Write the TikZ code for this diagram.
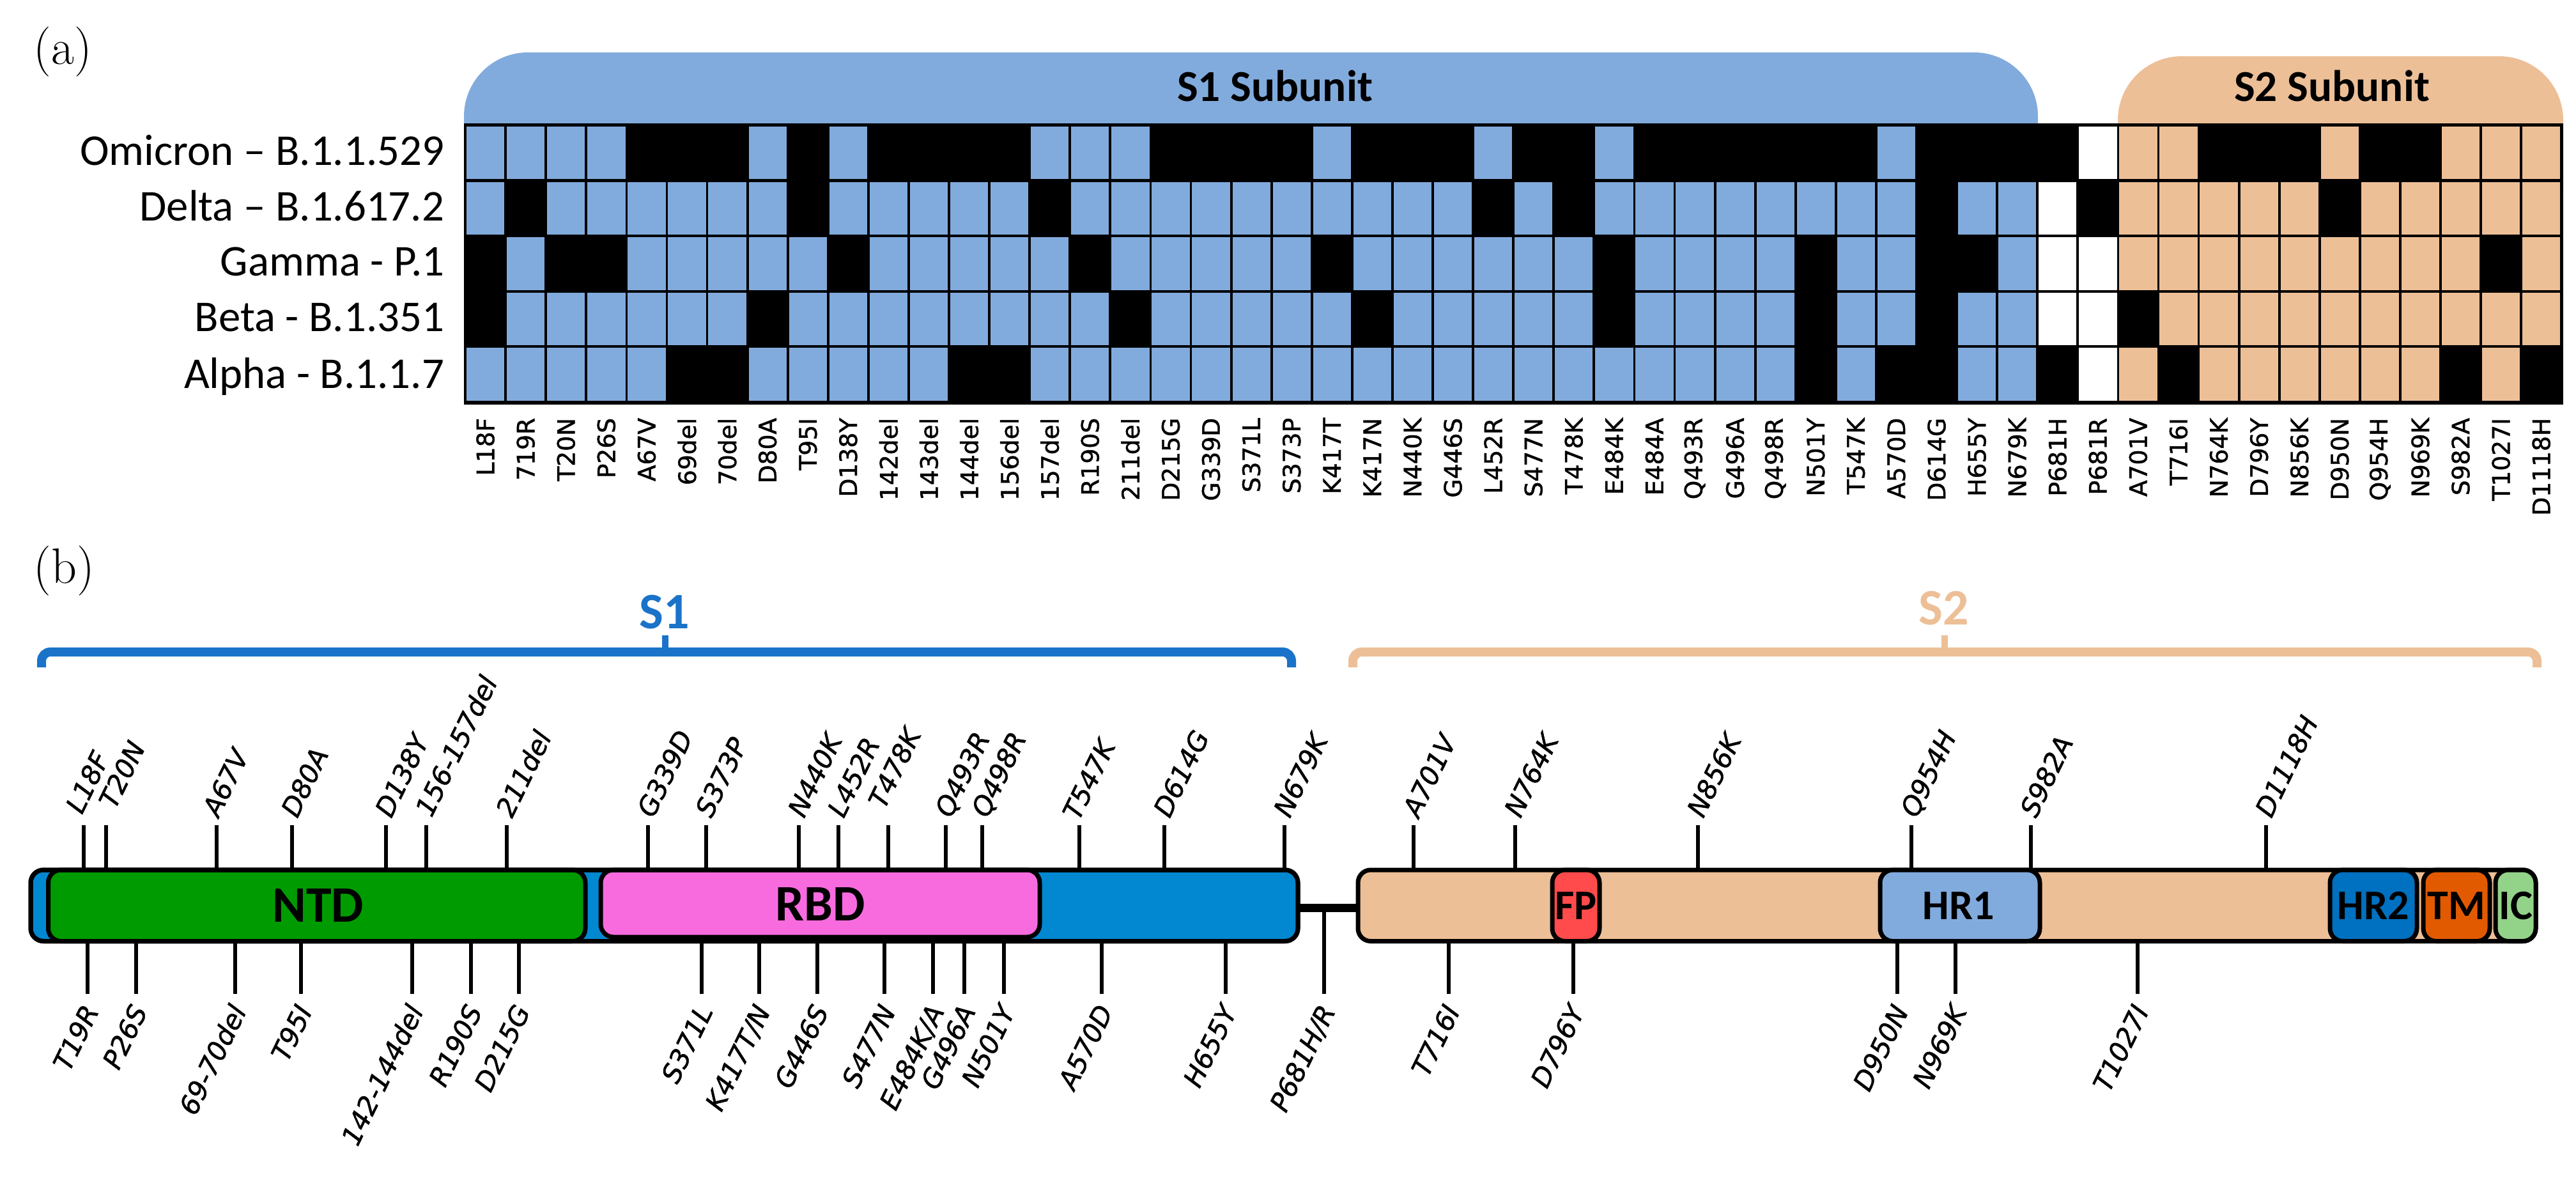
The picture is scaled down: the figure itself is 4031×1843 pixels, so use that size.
\documentclass[tikz,border=0pt]{standalone}
\usepackage{fontspec}
\newfontfamily\carl{Carlito}
\newfontfamily\dvs{DejaVu Sans}[ItalicFont={DejaVu Sans Oblique}, BoldFont={DejaVu Sans}, BoldFeatures={FakeBold=1.2}, BoldItalicFont={DejaVu Sans Oblique}, BoldItalicFeatures={FakeBold=1.2}]
\definecolor{gblue}{HTML}{82ABDD}
\definecolor{gorange}{HTML}{EDBF97}
\definecolor{cB}{HTML}{82ABDD}
\definecolor{cO}{HTML}{EDBF97}
\definecolor{cK}{HTML}{000000}
\definecolor{cW}{HTML}{FFFFFF}
\definecolor{brblue}{HTML}{1A73C8}
\definecolor{barblue}{HTML}{0288D1}
\definecolor{ntdgreen}{HTML}{009B00}
\definecolor{rbdpink}{HTML}{F76BDF}
\definecolor{fpred}{HTML}{FF4B4B}
\definecolor{hrtwo}{HTML}{0070C0}
\definecolor{tmorange}{HTML}{E25A00}
\definecolor{icgreen}{HTML}{93D389}
\tikzset{
 rowlab/.style={font=\carl\fontsize{17.2}{20}\selectfont, inner sep=0, anchor=base east},
 collab/.style={font=\dvs\bfseries\fontsize{9.4}{11}\selectfont, inner sep=0, anchor=east, rotate=90},
 tablab/.style={font=\carl\bfseries\fontsize{17.3}{20}\selectfont, inner sep=0, anchor=base},
 mutlab/.style={font=\dvs\bfseries\itshape\fontsize{10.4}{12}\selectfont, inner sep=0, rotate=64},
 tickline/.style={line width=1.6pt},
 dombox/.style={draw, line width=1.75pt, rounded corners=5pt},
 domlab/.style={font=\carl\bfseries\fontsize{16.5}{18}\selectfont, inner sep=0},
 biglab/.style={font=\carl\bfseries\fontsize{20}{24}\selectfont, inner sep=0},
 panel/.style={font=\fontsize{19.5}{22}\selectfont, inner sep=0, anchor=west},
 bracket/.style={line width=3.5pt, rounded corners=3.5pt},
}
\begin{document}
\begin{tikzpicture}[x=0.25pt,y=-0.25pt]
\path[use as bounding box] (0,0) rectangle (4031,1843);
% ---------- panel (a)
\node[panel] (pa) at (52,81) {(a)};
\fill[gblue, rounded corners=25pt] (726,82) rectangle (3189,400);
\fill[gorange, rounded corners=25pt] (3314,88) rectangle (4011,400);
\node[tablab] (s1tab) at (1995,158) {S1 Subunit};
\node[tablab] (s2tab) at (3649,158) {S2 Subunit};
\fill[black] (726,193) rectangle (4011,633);
\foreach \r/\data in {
 1/{B,B,B,B,K,K,K,B,K,B, K,K,K,K,B,B,B,K,K,K, K,B,K,K,K,B,K,K,B,K, K,K,K,K,K,B,K,K,K,K, W,O,O,K,K,K,O,K,K,O, O,O},
 2/{B,K,B,B,B,B,B,B,K,B, B,B,B,B,K,B,B,B,B,B, B,B,B,B,B,K,B,K,B,B, B,B,B,B,B,B,K,B,B,W, K,O,O,O,O,O,K,O,O,O, O,O},
 3/{K,B,K,K,B,B,B,B,B,K, B,B,B,B,B,K,B,B,B,B, B,K,B,B,B,B,B,B,K,B, B,B,B,K,B,B,K,K,B,W, W,O,O,O,O,O,O,O,O,O, K,O},
 4/{K,B,B,B,B,B,B,K,B,B, B,B,B,B,B,B,K,B,B,B, B,B,K,B,B,B,B,B,K,B, B,B,B,K,B,B,K,B,B,W, W,K,O,O,O,O,O,O,O,O, O,O},
 5/{B,B,B,B,B,K,K,B,B,B, B,B,K,K,B,B,B,B,B,B, B,B,B,B,B,B,B,B,B,B, B,B,B,K,B,K,K,B,B,K, W,O,K,O,O,O,O,O,O,K, O,K}} {
  \foreach \cl [count=\i] in \data {
    \fill[fill=c\cl] ({730+(\i-1)*63.08},{198+(\r-1)*86.6}) rectangle ({730+\i*63.08-3.8},{198+\r*86.6-4.3});
  }
}
\node[rowlab] (r1) at (696,258) {Omicron – B.1.1.529};
\node[rowlab] (r2) at (696,345) {Delta – B.1.617.2};
\node[rowlab] (r3) at (696,431) {Gamma - P.1};
\node[rowlab] (r4) at (696,518) {Beta - B.1.351};
\node[rowlab] (r5) at (696,607) {Alpha - B.1.1.7};
\foreach \lab [count=\i] in {L18F,719R,T20N,P26S,A67V,69del,70del,D80A,T95I,D138Y,142del,143del,144del,156del,157del,R190S,211del,D215G,G339D,S371L,S373P,K417T,K417N,N440K,G446S,L452R,S477N,T478K,E484K,E484A,Q493R,G496A,Q498R,N501Y,T547K,A570D,D614G,H655Y,N679K,P681H,P681R,A701V,T716I,N764K,D796Y,N856K,D950N,Q954H,N969K,S982A,T1027I,D1118H} {
  \node[collab] (cl\i) at ({730+(\i-1)*63.08+29.6},653) {\lab};
}
% ---------- panel (b)
\node[panel] (pb) at (52,893) {(b)};
\draw[brblue, bracket] (65,1044) -- (65,1020) -- (2021,1020) -- (2021,1044);
\draw[brblue, line width=2.7pt] (1041,1022) -- (1041,994);
\node[biglab, anchor=base, text=brblue] (s1lab) at (1040,983) {S1};
\draw[gorange, bracket] (2117,1044) -- (2117,1020) -- (3970,1020) -- (3970,1044);
\draw[gorange, line width=2.7pt] (3043,1022) -- (3043,994);
\node[biglab, anchor=base, text=gorange] (s2lab) at (3042,977) {S2};
% S1 bar
\draw[dombox, fill=barblue] (48,1361) rectangle (2031,1472.5);
\draw[dombox, fill=ntdgreen] (75.5,1361) rectangle (916,1472.5);
\draw[dombox, fill=rbdpink] (940,1361) rectangle (1627,1466);
\draw[line width=1.75pt, rounded corners=5pt] (48,1361) rectangle (2031,1472.5);
\node[biglab] (ntd) at (498,1417) {NTD};
\node[biglab] (rbd) at (1284,1415) {RBD};
% linker
\draw[line width=3.1pt] (2031,1420.5) -- (2125,1420.5);
% S2 bar
\draw[dombox, fill=gorange] (2125,1361) rectangle (3968,1472.5);
\draw[dombox, fill=fpred] (2429,1361) rectangle (2503,1472.5);
\draw[dombox, fill=gblue] (2942,1361) rectangle (3192,1472.5);
\draw[dombox, fill=hrtwo] (3646,1361) rectangle (3782,1472.5);
\draw[dombox, fill=tmorange] (3792,1361) rectangle (3896,1472.5);
\draw[dombox, fill=icgreen] (3905,1361) rectangle (3968,1472.5);
\node[domlab] (fp) at (2466,1417) {FP};
\node[domlab] (hr1) at (3065,1417) {HR1};
\node[domlab] (hr2) at (3714,1417) {HR2};
\node[domlab] (tm) at (3844,1417) {TM};
\node[domlab] (ic) at (3937,1417) {IC};
% top mutations: tick x / label base-west x / label base-west y / text
\foreach \x/\bx/\by/\lab [count=\i] in {131/128/1276/L18F,166/180/1268/T20N,339/342/1281/A67V,457/465/1282/D80A,604/612/1282/D138Y,667/675/1281/156-157del,793/801/1282/211del,1014/1022/1282/G339D,1105/1113/1282/S373P,1250/1258/1282/N440K,1312/1320/1282/L452R,1390/1384/1268/T478K,1480/1488/1282/Q493R,1537/1545/1282/Q498R,1689/1688/1286/T547K,1822/1830/1282/D614G,2010/2018/1282/N679K,2212/2220/1282/A701V,2371/2379/1282/N764K,2657/2665/1282/N856K,2991/2999/1282/Q954H,3178/3186/1282/S982A,3546/3554/1282/D1118H} {
  \draw[tickline] (\x,1291) -- (\x,1358);
  \node[mutlab, anchor=base west] (tl\i) at (\bx,\by) {\lab};
}
% bottom mutations
\foreach \x/\y/\lab [count=\i] in {137/1476/T19R,213/1476/P26S,368/1476/69-70del,471/1476/T95I,645/1476/142-144del,737/1476/R190S,812/1476/D215G,1098/1476/S371L,1188/1476/{K417T/N},1279/1476/G446S,1384/1476/S477N,1460/1476/{E484K/A},1509/1476/G496A,1571/1476/N501Y,1724/1476/A570D,1918/1476/H655Y,2072/1427/{P681H/R},2267/1476/T716I,2462/1476/D796Y,2969/1476/D950N,3060/1476/N969K,3345/1476/T1027I} {
  \draw[tickline] (\x,\y) -- (\x,1555);
  \node[mutlab, anchor=base east] (bl\i) at (\x+19,1581) {\lab};
}
\end{tikzpicture}
\end{document}
